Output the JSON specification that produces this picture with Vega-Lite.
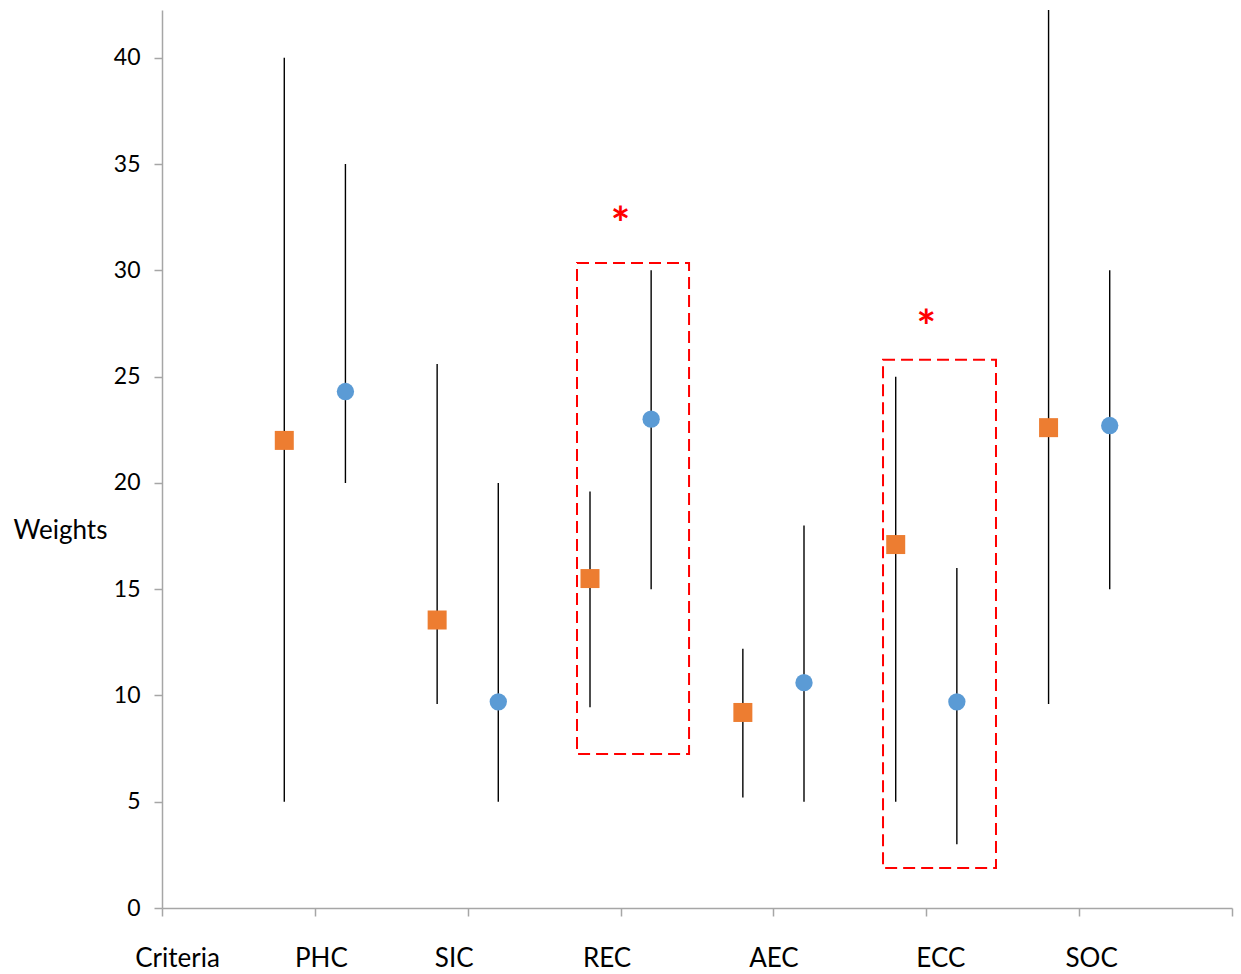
{
  "$schema": "https://vega.github.io/schema/vega-lite/v6.json",
  "width": 1070,
  "height": 898,
  "autosize": {"type": "none"},
  "padding": {"left": 162, "top": 10, "right": 9, "bottom": 66},
  "background": "white",
  "config": {
    "view": {"stroke": null},
    "font": "Lato",
    "axis": {"grid": false, "domainColor": "#A6A6A6", "tickColor": "#A6A6A6", "labelColor": "#000000", "labelFont": "Lato", "titleFont": "Lato", "domainWidth": 1.5, "tickWidth": 1.5}
  },
  "datasets": {
    "stats": [
      {"criterion": "PHC", "series": "A", "x": 0.8, "mean": 22.0, "lo": 5.0, "hi": 40.0},
      {"criterion": "PHC", "series": "B", "x": 1.2, "mean": 24.3, "lo": 20.0, "hi": 35.0},
      {"criterion": "SIC", "series": "A", "x": 1.8, "mean": 13.55, "lo": 9.6, "hi": 25.6},
      {"criterion": "SIC", "series": "B", "x": 2.2, "mean": 9.7, "lo": 5.0, "hi": 20.0},
      {"criterion": "REC", "series": "A", "x": 2.8, "mean": 15.5, "lo": 9.45, "hi": 19.6},
      {"criterion": "REC", "series": "B", "x": 3.2, "mean": 23.0, "lo": 15.0, "hi": 30.0},
      {"criterion": "AEC", "series": "A", "x": 3.8, "mean": 9.2, "lo": 5.2, "hi": 12.2},
      {"criterion": "AEC", "series": "B", "x": 4.2, "mean": 10.6, "lo": 5.0, "hi": 18.0},
      {"criterion": "ECC", "series": "A", "x": 4.8, "mean": 17.1, "lo": 5.0, "hi": 25.0},
      {"criterion": "ECC", "series": "B", "x": 5.2, "mean": 9.7, "lo": 3.0, "hi": 16.0},
      {"criterion": "SOC", "series": "A", "x": 5.8, "mean": 22.6, "lo": 9.6, "hi": 45.0},
      {"criterion": "SOC", "series": "B", "x": 6.2, "mean": 22.7, "lo": 15.0, "hi": 30.0}
    ],
    "boxes": [
      {"criterion": "REC", "x": 2.715, "x2": 3.448, "y": 7.25, "y2": 30.35},
      {"criterion": "ECC", "x": 4.717, "x2": 5.456, "y": 1.88, "y2": 25.79}
    ],
    "stars": [
      {"criterion": "REC", "x": 3.0, "y": 31.45, "label": "*"},
      {"criterion": "ECC", "x": 5.0, "y": 26.6, "label": "*"}
    ]
  },
  "layer": [
    {
      "data": {"name": "stats"},
      "mark": {"type": "rule", "color": "#000000", "strokeWidth": 1.4, "clip": true},
      "encoding": {
        "x": {
          "field": "x", "type": "quantitative",
          "scale": {"domain": [0, 7], "nice": false, "zero": false},
          "axis": {
            "title": null,
            "values": [0, 1, 2, 3, 4, 5, 6, 7],
            "labelExpr": "['Criteria','PHC','SIC','REC','AEC','ECC','SOC',''][datum.value]",
            "labelFontSize": 26,
            "labelBaseline": "middle",
            "labelPadding": 42,
            "tickSize": 8,
            "labelFlush": false,
            "labelOverlap": false,
            "labelBound": false,
            "labelOffset": {"expr": "[15,6,-14,-14,0,14,12,0][datum.value]"}
          }
        },
        "y": {
          "field": "lo", "type": "quantitative",
          "scale": {"domain": [0, 42.25], "nice": false, "zero": true},
          "axis": {
            "title": "Weights",
            "titleAngle": 0,
            "titleX": -102,
            "titleY": 520,
            "titleAlign": "center",
            "titleBaseline": "middle",
            "titleFontSize": 26,
            "titleFontWeight": "normal",
            "titleColor": "#000000",
            "values": [0, 5, 10, 15, 20, 25, 30, 35, 40],
            "labelFontSize": 23,
            "labelPadding": 14,
            "tickSize": 8
          }
        },
        "y2": {"field": "hi"}
      }
    },
    {
      "data": {"name": "boxes"},
      "mark": {"type": "rect", "fill": null, "fillOpacity": 0, "stroke": "#FF0000", "strokeWidth": 2, "strokeDash": [12, 6]},
      "encoding": {
        "x": {"field": "x", "type": "quantitative"},
        "x2": {"field": "x2"},
        "y": {"field": "y", "type": "quantitative"},
        "y2": {"field": "y2"}
      }
    },
    {
      "data": {"name": "stats"},
      "transform": [{"filter": "datum.series == 'A'"}],
      "mark": {"type": "point", "shape": "square", "filled": true, "size": 361, "color": "#ED7D31", "opacity": 1},
      "encoding": {
        "x": {"field": "x", "type": "quantitative"},
        "y": {"field": "mean", "type": "quantitative"}
      }
    },
    {
      "data": {"name": "stats"},
      "transform": [{"filter": "datum.series == 'B'"}],
      "mark": {"type": "circle", "size": 300, "color": "#5B9BD5", "opacity": 1},
      "encoding": {
        "x": {"field": "x", "type": "quantitative"},
        "y": {"field": "mean", "type": "quantitative"}
      }
    },
    {
      "data": {"name": "stars"},
      "mark": {"type": "text", "color": "#FF0000", "fontSize": 46, "fontWeight": "bold", "baseline": "alphabetic", "align": "center"},
      "encoding": {
        "x": {"field": "x", "type": "quantitative"},
        "y": {"field": "y", "type": "quantitative"},
        "text": {"field": "label"}
      }
    }
  ]
}
